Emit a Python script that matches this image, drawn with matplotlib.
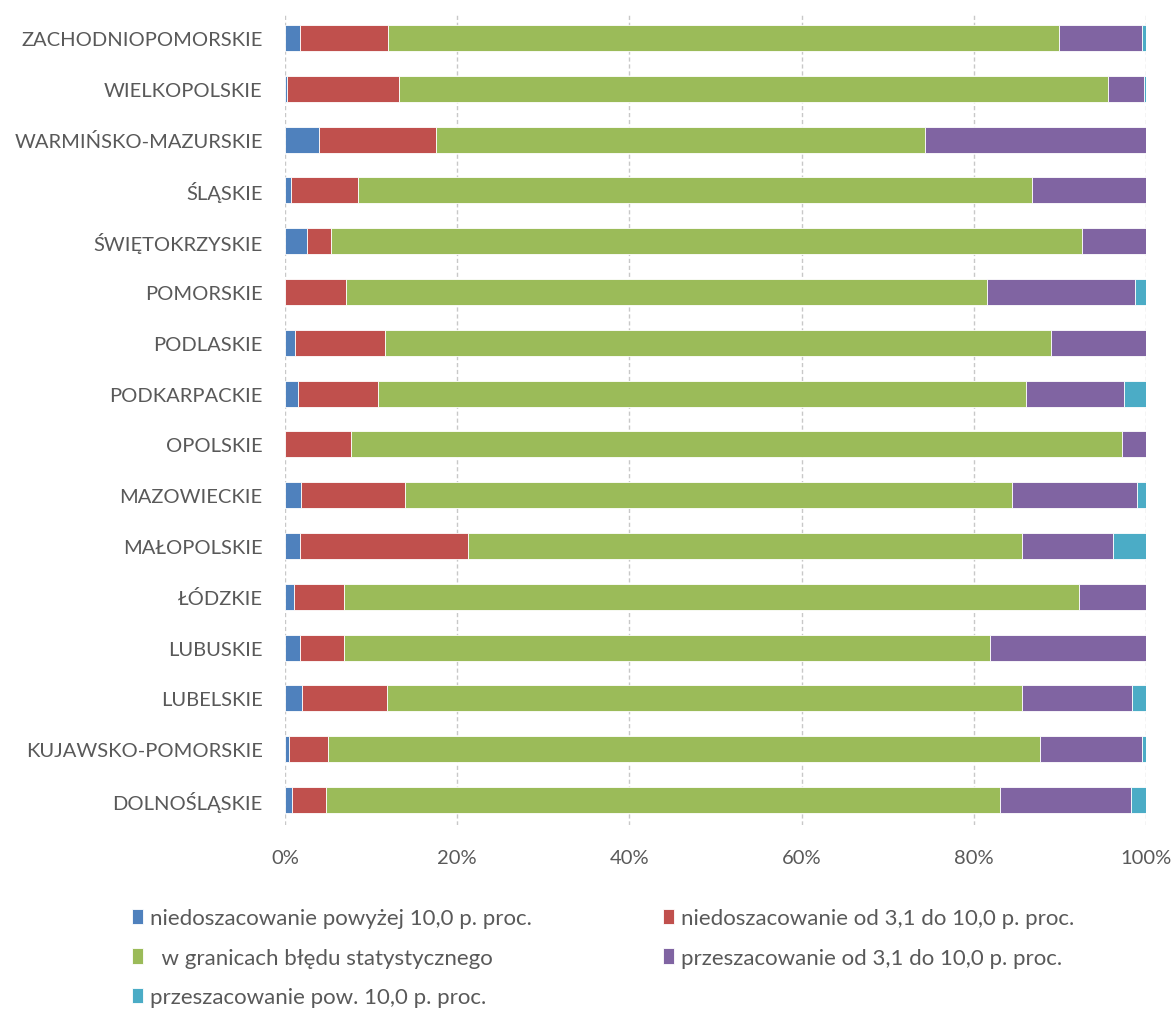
import numpy as np
import matplotlib
matplotlib.use('Agg')
import matplotlib.pyplot as plt

# Regions, top to bottom as in the chart
regions = ['ZACHODNIOPOMORSKIE', 'WIELKOPOLSKIE', 'WARMIŃSKO-MAZURSKIE', 'ŚLĄSKIE',
           'ŚWIĘTOKRZYSKIE', 'POMORSKIE', 'PODLASKIE', 'PODKARPACKIE', 'OPOLSKIE',
           'MAZOWIECKIE', 'MAŁOPOLSKIE', 'ŁÓDZKIE', 'LUBUSKIE', 'LUBELSKIE',
           'KUJAWSKO-POMORSKIE', 'DOLNOŚLĄSKIE']

# Shares (%) per category
under_high = [1.7, 0.2, 3.9, 0.7, 2.6, 0.0, 1.2, 1.5, 0.0, 1.9, 1.7, 1.0, 1.7, 2.0, 0.5, 0.8]
under_mid = [10.3, 13.1, 13.6, 7.8, 2.7, 7.1, 10.4, 9.3, 7.7, 12.0, 19.6, 5.9, 5.2, 9.8, 4.5, 4.0]
within = [77.9, 82.3, 56.9, 78.3, 87.3, 74.4, 77.4, 75.3, 89.5, 70.5, 64.3, 85.3, 75.0, 73.8, 82.7, 78.3]
over_mid = [9.6, 4.2, 25.6, 13.2, 7.4, 17.2, 11.0, 11.4, 2.8, 14.6, 10.6, 7.8, 18.1, 12.8, 11.8, 15.2]
over_high = [0.5, 0.2, 0.0, 0.0, 0.0, 1.3, 0.0, 2.5, 0.0, 1.0, 3.8, 0.0, 0.0, 1.6, 0.5, 1.7]

labels = ['niedoszacowanie powyżej 10,0 p. proc.',
          'niedoszacowanie od 3,1 do 10,0 p. proc.',
          '  w granicach błędu statystycznego',
          'przeszacowanie od 3,1 do 10,0 p. proc.',
          'przeszacowanie pow. 10,0 p. proc.']
colors = ['#4F81BD', '#C0504D', '#9BBB59', '#8064A2', '#4BACC6']

plt.rcParams['font.family'] = ['Lato', 'DejaVu Sans']
text_color = '#595959'

series = [under_high, under_mid, within, over_mid, over_high]
data = np.array(series)
data = data / data.sum(axis=0) * 100  # normalise to 100%

fig = plt.figure(figsize=(11.76, 10.12), dpi=100)
ax = fig.add_axes([0.2423, 0.1834, 0.7321, 0.8032])

y = np.arange(len(regions))
left = np.zeros(len(regions))
handles = []
for vals, col, lab in zip(data, colors, labels):
    h = ax.barh(y, vals, left=left, height=0.51, color=col, edgecolor='white',
                linewidth=0.6, label=lab, zorder=3)
    handles.append(h)
    left += vals

ax.set_xlim(0, 100)
ax.set_ylim(len(regions) - 0.5, -0.5)
ax.set_yticks(y)
ax.set_yticklabels(regions)
ax.set_xticks(np.arange(0, 101, 20))
ax.set_xticklabels([f'{v}%' for v in range(0, 101, 20)])
ax.tick_params(axis='both', length=0, labelsize=14.5, colors=text_color)
ax.tick_params(axis='y', pad=16)
ax.tick_params(axis='x', pad=17)
for s in ax.spines.values():
    s.set_visible(False)
ax.xaxis.grid(True, linestyle=(0, (3, 2)), color='#c8c8c8', linewidth=1.0, zorder=0)

# Legend: row-major order in two columns
order = [0, 2, 4, 1, 3]
leg = fig.legend([handles[i] for i in order], [labels[i] for i in order],
                 ncol=2, loc='upper left', bbox_to_anchor=(0.105, 0.1105),
                 frameon=False, fontsize=16, handlelength=0.47, handleheight=0.7,
                 handletextpad=0.33, columnspacing=5.9, labelspacing=0.88,
                 borderaxespad=0)
for t in leg.get_texts():
    t.set_color(text_color)

fig.savefig('out.png', dpi=100)
